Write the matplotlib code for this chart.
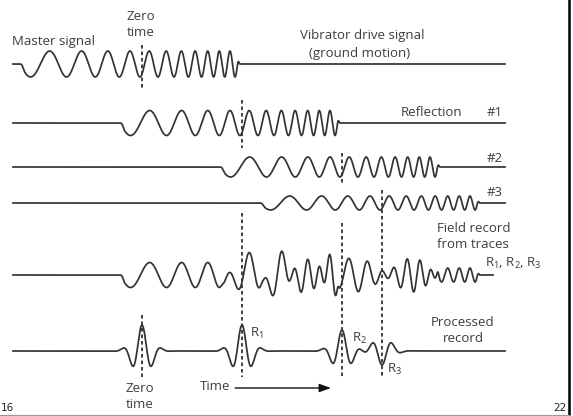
import numpy as np
import matplotlib
matplotlib.use("Agg")
import matplotlib.pyplot as plt

plt.rcParams["font.family"] = ["Open Sans", "DejaVu Sans"]
plt.rcParams["mathtext.fontset"] = "custom"
plt.rcParams["mathtext.rm"] = "Open Sans"
plt.rcParams["mathtext.it"] = "Open Sans"

# ---- Sweep and reflection parameters (time in ms, relative to zero time) ----
sweep_start = -122
sweep_end = 98
sweep_freq = (0.0228, 0.1038)      # cycles per ms at start / end (exponential sweep)
master_amp = 13

reflection_names = ["#1", "#2", "#3"]
reflection_delay = [100, 200, 240]
reflection_amp = [12.5, 10.0, 7.0]

# Correlated (processed) record: wavelet times and amplitudes
wavelet_time = [0, 100, 200, 240]
wavelet_amp = [26, 26, 21, -14]
wavelet_labels = ["", "R$_1$", "R$_2$", "R$_3$"]

trace_start = -129
trace_end = 363
field_end = 351

# ---- Layout ----
W, H = 573, 416
x_off = 142                      # pixel column of zero time
base = {"master": 64, "r1": 123, "r2": 167, "r3": 203, "field": 275, "proc": 351}
ink = "#333333"
txt = "#3d3d3d"
lw = 1.25

def sweep(t, delay, amp):
    dur = sweep_end - sweep_start
    tau = t - delay - sweep_start
    f0, f1 = sweep_freq
    beta = np.log(f1 / f0) / dur
    cycles = f0 * (np.exp(beta * tau) - 1.0) / beta
    env = np.ones_like(t)
    ramp_in, ramp_out = 5.0, 4.0
    m = tau < ramp_in
    env[m] = np.sin(0.5 * np.pi * np.clip(tau[m] / ramp_in, 0, 1)) ** 2
    m = tau > dur - ramp_out
    env[m] = np.sin(0.5 * np.pi * np.clip((dur - tau[m]) / ramp_out, 0, 1)) ** 2
    env[(tau < 0) | (tau > dur)] = 0
    return amp * env * -np.sin(2 * np.pi * cycles)

def wavelet(t, t0, amp):
    s = t - t0
    return amp * np.cos(2 * np.pi * s / 20.0) * np.exp(-(s / 13.0) ** 2)

fig = plt.figure(figsize=(W / 100, H / 100), dpi=100)
ax = fig.add_axes([0, 0, 1, 1])
ax.set_xlim(-x_off, W - x_off)
ax.set_ylim(H, 0)
ax.axis("off")

t = np.linspace(trace_start, trace_end, 5000)

# master sweep
ax.plot(t, base["master"] - sweep(t, 0, master_amp), color=ink, lw=lw)

# reflections and their sum (field record)
refl_keys = ["r1", "r2", "r3"]
field = np.zeros_like(t)
for key, d, a in zip(refl_keys, reflection_delay, reflection_amp):
    y = sweep(t, d, a)
    field += y
    ax.plot(t, base[key] - y, color=ink, lw=lw)

mf = t <= field_end
ax.plot(t[mf], base["field"] - field[mf], color=ink, lw=lw)

# processed record
proc = np.zeros_like(t)
for t0, a in zip(wavelet_time, wavelet_amp):
    proc += wavelet(t, t0, a)
ax.plot(t, base["proc"] - proc, color=ink, lw=lw)

# dashed time markers
dash = dict(color=ink, lw=1.3, linestyle=(0, (2.0, 1.6)))
markers = {
    0: [(45, 88), (315, 377)],
    100: [(100, 148), (213, 377)],
    200: [(153, 183), (223, 378)],
    240: [(190, 378)],
}
for tm, segs in markers.items():
    for y0, y1 in segs:
        ax.plot([tm, tm], [y0, y1], **dash)

fs = 9.5
def label(x_px, y_px, s, ha="center", size=fs):
    ax.text(x_px - x_off, y_px, s, ha=ha, va="center", color=txt, fontsize=size)

label(12, 42, "Master signal", ha="left")
label(141, 17, "Zero")
label(141, 33, "time")
label(362, 36, "Vibrator drive signal")
label(360, 53, "(ground motion)")
label(432, 113, "Reflection")
for name, y in zip(reflection_names, [113, 159, 193]):
    label(495, y, name)
label(437, 228, "Field record", ha="left")
label(437, 244, "from traces", ha="left")
label(485, 263, "R$_1$, R$_2$, R$_3$", ha="left")
label(463, 322, "Processed")
label(463, 338, "record")
for lab, xp, yp in zip(wavelet_labels[1:], [250, 352, 387], [333, 338, 369]):
    label(xp, yp, lab, ha="left")
label(140, 389, "Zero")
label(140, 405, "time")
label(215, 387, "Time")

ax.annotate("", xy=(331 - x_off, 388), xytext=(235 - x_off, 388),
            arrowprops=dict(arrowstyle="-|>,head_length=0.7,head_width=0.25",
                            color="#111111", lw=1.0, shrinkA=0, shrinkB=0))

# slide frame and page numbers
ax.plot([569 - x_off, 569 - x_off], [0, 414], color="#000000", lw=1.8)
ax.plot([-x_off, 569 - x_off], [415, 415], color="#9a9a9a", lw=0.8)
ax.text(567 - x_off, 408, "22", ha="right", va="center", fontsize=7.5,
        color="#222222", family="DejaVu Sans")
ax.text(0.5 - x_off, 408, "16", ha="left", va="center", fontsize=7.5,
        color="#222222", family="DejaVu Sans")

fig.savefig("out.png", dpi=100)
